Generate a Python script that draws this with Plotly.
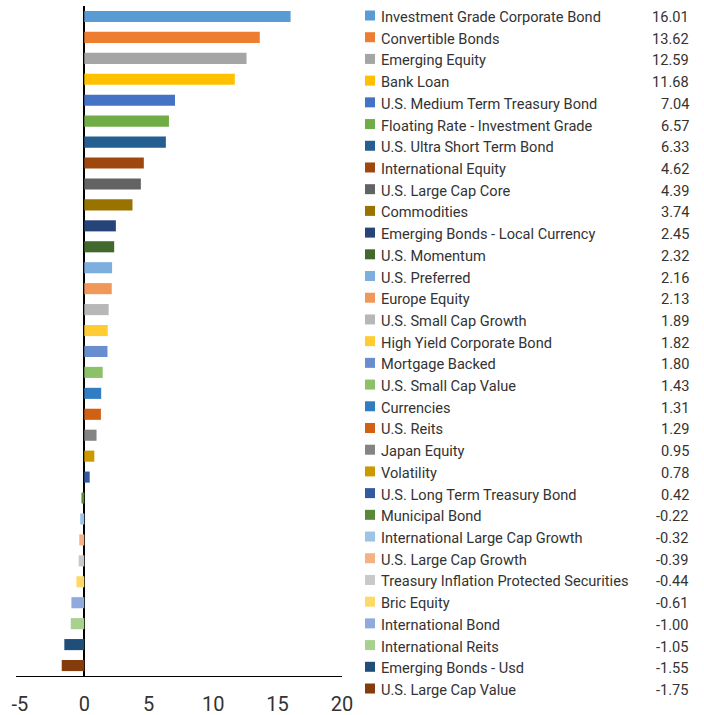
import plotly.graph_objects as go

categories = [
    "Investment Grade Corporate Bond", "Convertible Bonds", "Emerging Equity", "Bank Loan",
    "U.S. Medium Term Treasury Bond", "Floating Rate - Investment Grade", "U.S. Ultra Short Term Bond",
    "International Equity", "U.S. Large Cap Core", "Commodities", "Emerging Bonds - Local Currency",
    "U.S. Momentum", "U.S. Preferred", "Europe Equity", "U.S. Small Cap Growth",
    "High Yield Corporate Bond", "Mortgage Backed", "U.S. Small Cap Value", "Currencies",
    "U.S. Reits", "Japan Equity", "Volatility", "U.S. Long Term Treasury Bond", "Municipal Bond",
    "International Large Cap Growth", "U.S. Large Cap Growth",
    "Treasury Inflation Protected Securities", "Bric Equity", "International Bond",
    "International Reits", "Emerging Bonds - Usd", "U.S. Large Cap Value",
]
values = [16.01, 13.62, 12.59, 11.68, 7.04, 6.57, 6.33, 4.62, 4.39, 3.74, 2.45, 2.32, 2.16, 2.13,
          1.89, 1.82, 1.80, 1.43, 1.31, 1.29, 0.95, 0.78, 0.42, -0.22, -0.32, -0.39, -0.44, -0.61,
          -1.00, -1.05, -1.55, -1.75]
colors = [
    "#5B9BD5", "#ED7D31", "#A5A5A5", "#FFC000", "#4472C4", "#70AD47",
    "#255E91", "#9E480E", "#636363", "#997300", "#264478", "#43682B",
    "#7CAFDD", "#F1975A", "#B7B7B7", "#FFCD33", "#698ED0", "#8CC168",
    "#327DC2", "#D26012", "#848484", "#CC9A00", "#335AA1", "#5A8A39",
    "#9DC3E6", "#F4B183", "#C9C9C9", "#FFD966", "#8FAADC", "#A9D18E",
    "#1F4E79", "#843C0C",
]
x_ticks = [-5, 0, 5, 10, 15, 20]

W, H = 704, 715
FONT = "Roboto, Liberation Sans, Arial, sans-serif"
TXT = "#333333"

fig = go.Figure()
fig.add_trace(go.Bar(
    x=values, y=categories, orientation="h",
    marker=dict(color=colors, line=dict(width=0)),
    showlegend=False, hoverinfo="x+y",
))

# plot area in pixels
px_left, px_right, px_top, px_bottom = 16, 342, 6, 676

fig.update_layout(
    width=W, height=H,
    margin=dict(l=0, r=0, t=0, b=0),
    paper_bgcolor="white", plot_bgcolor="white",
    bargap=0.47,
    font=dict(family=FONT, color=TXT),
    xaxis=dict(
        domain=[px_left / W, px_right / W],
        range=[-5.3, 20], tickvals=x_ticks, ticktext=[str(t) for t in x_ticks],
        showgrid=False, zeroline=True, zerolinecolor="black", zerolinewidth=1.5,
        showline=True, linecolor="black", linewidth=1, ticks="",
        tickfont=dict(size=20, family=FONT, color=TXT),
        ticklabelstandoff=10,
        automargin=False, fixedrange=True,
    ),
    yaxis=dict(
        domain=[1 - px_bottom / H, 1 - px_top / H],
        autorange="reversed", showticklabels=False, showgrid=False,
        showline=False, ticks="", zeroline=False, fixedrange=True, automargin=False,
    ),
)

# legend-like table on the right
row0, row_step = 17.0, 21.71
for i, (name, val, col) in enumerate(zip(categories, values, colors)):
    yc = row0 + i * row_step
    fig.add_shape(
        type="rect", xref="paper", yref="paper",
        x0=365 / W, x1=375 / W,
        y0=1 - (yc + 3.5) / H, y1=1 - (yc - 6.5) / H,
        fillcolor=col, line=dict(width=0),
    )
    fig.add_annotation(
        x=379 / W, y=1 - yc / H, xref="paper", yref="paper",
        text=name, showarrow=False, xanchor="left", yanchor="middle",
        font=dict(size=14.6, family=FONT, color=TXT),
    )
    fig.add_annotation(
        x=691 / W, y=1 - yc / H, xref="paper", yref="paper",
        text=f"{val:.2f}", showarrow=False, xanchor="right", yanchor="middle",
        font=dict(size=14.6, family=FONT, color=TXT),
    )

fig.write_html("out.html", config={"displayModeBar": False},
               post_script="document.body.style.margin='0';")
